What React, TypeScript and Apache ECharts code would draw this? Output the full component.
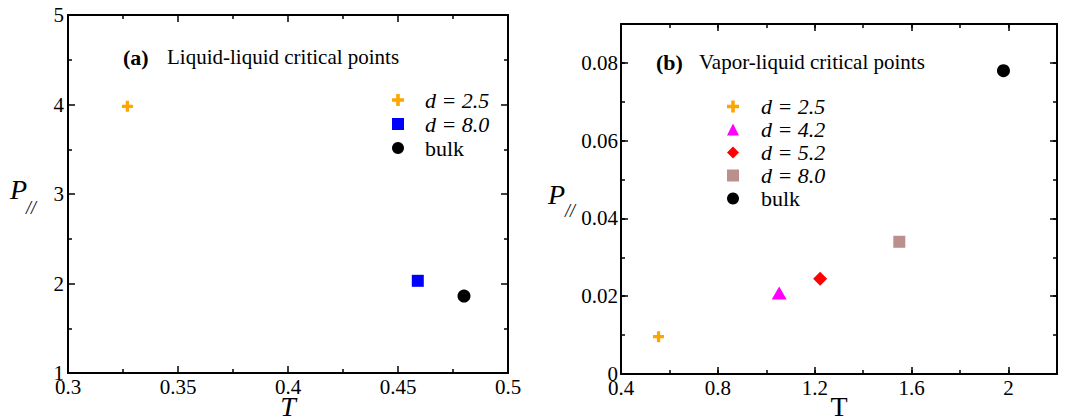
import React, { useEffect, useRef } from "react";
import * as echarts from "echarts";

// ---- data ----
const llNames = ["d = 2.5", "d = 8.0", "bulk"];
const llT = [0.327, 0.459, 0.48];
const llP = [3.98, 2.03, 1.86];

const vlNames = ["d = 2.5", "d = 4.2", "d = 5.2", "d = 8.0", "bulk"];
const vlT = [0.555, 1.053, 1.222, 1.549, 1.979];
const vlP = [0.0096, 0.0208, 0.0245, 0.034, 0.078];

const llXRange = [0.3, 0.5, 0.05];
const llYRange = [1, 5, 1];
const vlXRange = [0.4, 2.2, 0.4, 0.2];
const vlYRange = [0, 0.09, 0.02, 0.01];

const FONT = "Liberation Serif";
const PLUS = "path://M3.5 0H6.5V3.5H10V6.5H6.5V10H3.5V6.5H0V3.5H3.5Z";

const llStyles = [
  { symbol: PLUS, size: 11, color: "#FFA500" },
  { symbol: "rect", size: 12, color: "#0000FF" },
  { symbol: "circle", size: 13, color: "#000000" },
];
const vlStyles = [
  { symbol: PLUS, size: 11, color: "#FFA500" },
  { symbol: "triangle", size: [15, 13], color: "#FF00FF" },
  { symbol: "diamond", size: 14, color: "#FF0000" },
  { symbol: "rect", size: 12, color: "#BC8F8F" },
  { symbol: "circle", size: 13, color: "#000000" },
];

const lineStyle = { color: "#000", width: 2 };

function axis(o: any) {
  return {
    type: "value",
    gridIndex: o.grid,
    position: o.position,
    min: o.min,
    max: o.max,
    interval: o.interval,
    axisLine: { show: o.line !== false, onZero: false, lineStyle },
    axisTick: { show: true, inside: true, length: o.tickLen, lineStyle: { color: "#000", width: 1.5 } },
    minorTick: o.minor
      ? { show: true, splitNumber: 2, length: 4, lineStyle: { color: "#000", width: 1.5 } }
      : { show: false },
    splitLine: { show: false },
    axisLabel: o.labels
      ? {
          show: true,
          margin: o.margin ?? 3,
          fontSize: 21,
          fontFamily: FONT,
          color: "#000",
          showMinLabel: true,
          showMaxLabel: o.showMax ?? true,
        }
      : { show: false },
  };
}

function legendFormatter(name: string) {
  const label = name.slice(3);
  return label === "bulk" ? `{n|${label}}` : `{i|${label}}`;
}

export default function App() {
  const ref = useRef<HTMLDivElement>(null);
  useEffect(() => {
    if (!ref.current) return;
    const chart = echarts.init(ref.current, undefined, { renderer: "svg" });

    const series: any[] = [];
    llNames.forEach((n, i) => {
      series.push({
        type: "scatter",
        name: "a: " + n,
        xAxisIndex: 0,
        yAxisIndex: 0,
        symbol: llStyles[i].symbol,
        symbolSize: llStyles[i].size,
        itemStyle: { color: llStyles[i].color, opacity: 1 },
        data: [[llT[i], llP[i]]],
        z: 5,
      });
    });
    vlNames.forEach((n, i) => {
      series.push({
        type: "scatter",
        name: "b: " + n,
        xAxisIndex: 2,
        yAxisIndex: 2,
        symbol: vlStyles[i].symbol,
        symbolSize: vlStyles[i].size,
        itemStyle: { color: vlStyles[i].color, opacity: 1 },
        data: [[vlT[i], vlP[i]]],
        z: 5,
      });
    });

    const rich = (lh: number, pad: number) => ({
      i: { fontSize: 22, fontStyle: "italic", fontFamily: FONT, color: "#000", lineHeight: lh, padding: [0, 0, 0, pad] },
      n: { fontSize: 22, fontStyle: "normal", fontFamily: FONT, color: "#000", lineHeight: lh, padding: [0, 0, 0, pad] },
    });

    const txt = (x: number, y: number, text: string, size: number, extra: any = {}) => ({
      type: "text",
      x,
      y,
      style: { text, fontSize: size, fontFamily: FONT, fill: "#000", verticalAlign: "middle", ...extra },
    });

    const option: any = {
      animation: false,
      textStyle: { fontFamily: FONT },
      grid: [
        { left: 68, top: 15, width: 440, height: 358, containLabel: false, outerBoundsMode: "none" },
        { left: 621, top: 24, width: 436, height: 350, containLabel: false, outerBoundsMode: "none" },
      ],
      xAxis: [
        axis({ grid: 0, position: "bottom", min: llXRange[0], max: llXRange[1], interval: llXRange[2], tickLen: 7, minor: true, labels: true }),
        axis({ grid: 0, position: "top", min: llXRange[0], max: llXRange[1], interval: llXRange[2], tickLen: 7, minor: true, labels: false }),
        axis({ grid: 1, position: "bottom", min: vlXRange[0], max: vlXRange[1], interval: vlXRange[2], tickLen: 7, labels: true, showMax: false }),
        axis({ grid: 1, position: "bottom", min: vlXRange[0], max: vlXRange[1], interval: vlXRange[3], tickLen: 4, labels: false, line: false }),
        axis({ grid: 1, position: "top", min: vlXRange[0], max: vlXRange[1], interval: vlXRange[2], tickLen: 7, labels: false }),
        axis({ grid: 1, position: "top", min: vlXRange[0], max: vlXRange[1], interval: vlXRange[3], tickLen: 4, labels: false, line: false }),
      ],
      yAxis: [
        axis({ grid: 0, position: "left", min: llYRange[0], max: llYRange[1], interval: llYRange[2], tickLen: 7, minor: true, labels: true, margin: 4 }),
        axis({ grid: 0, position: "right", min: llYRange[0], max: llYRange[1], interval: llYRange[2], tickLen: 7, minor: true, labels: false }),
        axis({ grid: 1, position: "left", min: vlYRange[0], max: vlYRange[1], interval: vlYRange[2], tickLen: 7, labels: true, showMax: false, margin: 3 }),
        axis({ grid: 1, position: "left", min: vlYRange[0], max: vlYRange[1], interval: vlYRange[3], tickLen: 4, labels: false, line: false }),
        axis({ grid: 1, position: "right", min: vlYRange[0], max: vlYRange[1], interval: vlYRange[2], tickLen: 7, labels: false }),
        axis({ grid: 1, position: "right", min: vlYRange[0], max: vlYRange[1], interval: vlYRange[3], tickLen: 4, labels: false, line: false }),
      ],
      legend: [
        {
          data: llNames.map((n) => "a: " + n),
          orient: "vertical",
          left: 392,
          top: 88,
          padding: 0,
          itemWidth: 12,
          itemHeight: 12,
          itemGap: 0,
          selectedMode: false,
          formatter: legendFormatter,
          textStyle: { fontSize: 22, fontFamily: FONT, color: "#000", lineHeight: 24, rich: rich(24, 16) },
        },
        {
          data: vlNames.map((n) => "b: " + n),
          orient: "vertical",
          left: 727,
          top: 95,
          padding: 0,
          itemWidth: 12,
          itemHeight: 12,
          itemGap: 0,
          selectedMode: false,
          formatter: legendFormatter,
          textStyle: { fontSize: 22, fontFamily: FONT, color: "#000", lineHeight: 23, rich: rich(23, 17) },
        },
      ],
      graphic: [
        txt(123, 57, "(a)", 22, { fontWeight: "bold" }),
        txt(167, 57, "Liquid-liquid critical points", 21),
        txt(656, 62, "(b)", 22, { fontWeight: "bold" }),
        txt(699, 62, "Vapor-liquid critical points", 21),
        txt(10, 189, "P", 28, { fontStyle: "italic" }),
        txt(26, 208, "//", 18, { fontStyle: "italic" }),
        txt(548, 194, "P", 28, { fontStyle: "italic" }),
        txt(565, 211, "//", 18, { fontStyle: "italic" }),
        txt(288, 406, "T", 28, { fontStyle: "italic", align: "center" }),
        txt(839, 406, "T", 28, { align: "center" }),
      ],
      series,
    };
    chart.setOption(option);
    return () => chart.dispose();
  }, []);
  return (
    <div
      ref={ref}
      style={{ position: "fixed", left: 0, top: 0, width: 1082, height: 419, background: "#fff" }}
    />
  );
}
